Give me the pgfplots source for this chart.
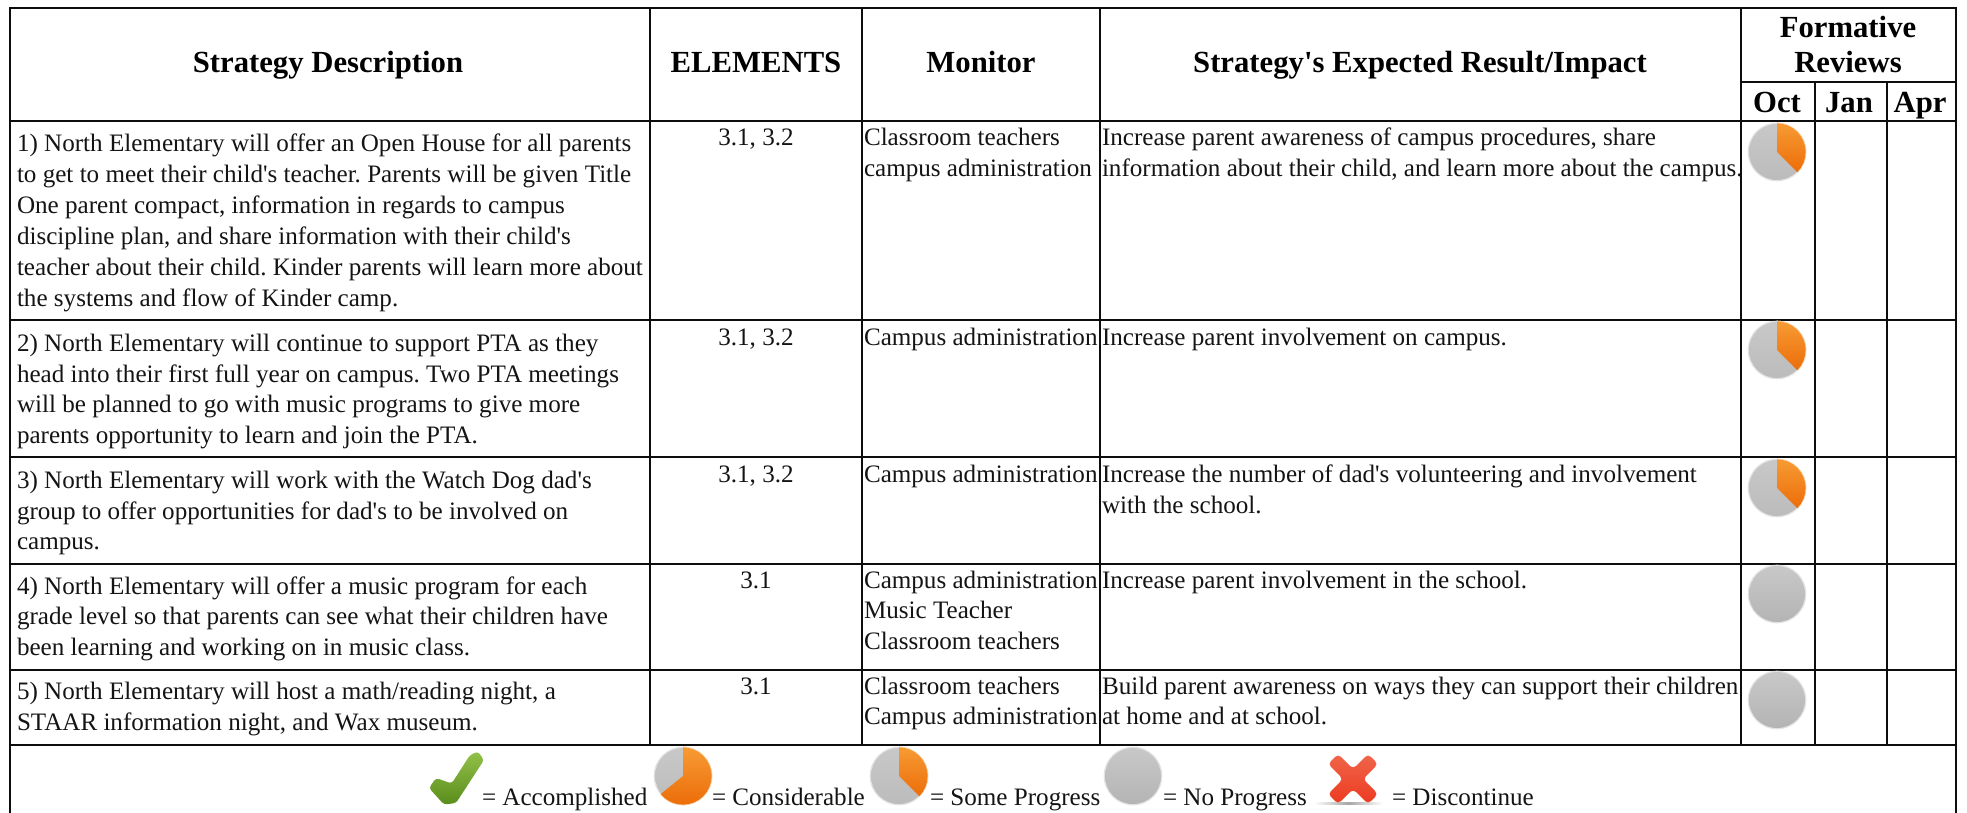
\documentclass[border=0pt]{standalone}
\usepackage{pgfplots}
\usepackage{fontspec}
\setmainfont{Liberation Serif}[Ligatures={TeXOff,CommonOff}]
\pgfplotsset{compat=1.18}
\definecolor{gT}{HTML}{C8C8C8}
\definecolor{gB}{HTML}{B4B4B4}
\definecolor{gR}{HTML}{E2E2E2}
\definecolor{oT}{HTML}{F79B33}
\definecolor{oB}{HTML}{EC6D0A}
\definecolor{oR}{HTML}{FBD9B0}
\definecolor{lT}{HTML}{93C24A}
\definecolor{lB}{HTML}{5A8C1C}
\definecolor{xT}{HTML}{F0654A}
\definecolor{xB}{HTML}{EC3A20}
\pgfdeclareplotmark{pnone}{%
  \path[draw=none,fill=gR] (0,0) circle (29.3pt);
  \shade[draw=none,top color=gT,bottom color=gB] (0,0) circle (28pt);}
\pgfdeclareplotmark{psome}{%
  \path[draw=none,fill=gR] (0,0) circle (29.3pt);
  \path[draw=none,fill=oR] (0,0) -- (0,29.3pt) arc (90:-45:29.3pt) -- cycle;
  \shade[draw=none,top color=gT,bottom color=gB!90!white] (0,0) circle (28pt);
  \shade[draw=none,top color=oT,bottom color=oB] (0,0) -- (0,28.6pt) arc (90:-45:28.6pt) -- cycle;}
\pgfdeclareplotmark{pmore}{%
  \path[draw=none,fill=gR] (0,0) circle (29.3pt);
  \path[draw=none,fill=oR] (0,0) -- (0,29.3pt) arc (90:-141:29.3pt) -- cycle;
  \shade[draw=none,top color=gT,bottom color=gB!90!white] (0,0) circle (28pt);
  \shade[draw=none,top color=oT,bottom color=oB] (0,0) -- (0,28.6pt) arc (90:-141:28.6pt) -- cycle;}
\pgfdeclareplotmark{pcheck}{%
  \shade[draw=none,top color=lT,bottom color=lB,rounded corners=3pt]
    (14pt,24pt) -- (22pt,27.5pt) -- (28pt,19pt) -- (0pt,-24pt) -- (-12pt,-25.5pt) -- (-27pt,-9pt) -- (-20pt,1pt) -- (-4.3pt,-4.5pt) -- cycle;}
\pgfdeclareplotmark{pcross}{%
  \shade[draw=none,left color=white,right color=white,middle color=black!35] (-39pt,-25.5pt) rectangle (30pt,-23.5pt);
  \shade[draw=none,top color=xT,bottom color=xB,rounded corners=4pt]
    (-15pt,25pt) -- (0pt,10pt) -- (15pt,25pt) -- (25pt,15pt) -- (10pt,0pt) -- (25pt,-15pt) -- (15pt,-25pt) -- (0pt,-10pt) -- (-15pt,-25pt) -- (-25pt,-15pt) -- (-10pt,0pt) -- (-25pt,15pt) -- cycle;}
\tikzset{
  tx/.style={anchor=base west,inner sep=0pt,outer sep=0pt,text=black!92,font=\fontsize{25.1pt}{30pt}\selectfont},
  tc/.style={anchor=base,inner sep=0pt,outer sep=0pt,text=black!92,font=\fontsize{25.1pt}{30pt}\selectfont},
  th/.style={anchor=base,inner sep=0pt,outer sep=0pt,text=black,font=\fontsize{30.7pt}{36pt}\selectfont\bfseries},
}
\newcommand{\T}[3]{\node[tx] at (axis cs:#1,#2) {#3};}
\newcommand{\C}[3]{\node[tc] at (axis cs:#1,#2) {#3};}
\newcommand{\Hd}[3]{\node[th] at (axis cs:#1,#2) {#3};}
\newcommand{\Ln}[4]{\addplot[black!95,line width=2pt,line cap=rect] coordinates {(#1,#2) (#3,#4)};}
\begin{document}
\frenchspacing
\begin{tikzpicture}
\begin{axis}[
  scale only axis,width=1967pt,height=812pt,
  xmin=0,xmax=1967,ymin=0,ymax=812,y dir=reverse,
  axis lines=none,ticks=none,clip=false]
\addplot[draw=none,fill=white] coordinates {(0,0) (1967,0) (1967,812) (0,812)} -- cycle;
% table rules
\Ln{10}{8}{1956}{8}
\Ln{10}{121}{1956}{121}
\Ln{1741}{82}{1956}{82}
\Ln{10}{320}{1956}{320}
\Ln{10}{457}{1956}{457}
\Ln{10}{564}{1956}{564}
\Ln{10}{670}{1956}{670}
\Ln{10}{745}{1956}{745}
\Ln{10}{8}{10}{812}
\Ln{1956}{8}{1956}{812}
\Ln{650}{8}{650}{745}
\Ln{862}{8}{862}{745}
\Ln{1100}{8}{1100}{745}
\Ln{1741}{8}{1741}{745}
\Ln{1815}{82}{1815}{745}
\Ln{1887}{82}{1887}{745}
% markers
\addplot[only marks,draw=none,mark=psome] coordinates {(1777,152) (1777,350) (1777,488) (899,776)};
\addplot[only marks,draw=none,mark=pnone] coordinates {(1777,594) (1777,700) (1133,776)};
\addplot[only marks,draw=none,mark=pmore] coordinates {(683,776)};
\addplot[only marks,draw=none,mark=pcheck] coordinates {(456,779)};
\addplot[only marks,draw=none,mark=pcross] coordinates {(1353,779)};
% header
\Hd{328}{73}{Strategy Description}
\Hd{756}{73}{ELEMENTS}
\Hd{981}{73}{Monitor}
\Hd{1420}{73}{Strategy's Expected Result/Impact}
\Hd{1848}{38}{Formative}
\Hd{1848}{73}{Reviews}
\Hd{1777}{113}{Oct}
\Hd{1849}{113}{Jan}
\Hd{1920}{113}{Apr}
% column 1
\T{17}{152}{1) North Elementary will offer an Open House for all parents}
\T{17}{183}{to get to meet their child's teacher. Parents will be given Title}
\T{17}{214}{One parent compact, information in regards to campus}
\T{17}{244}{discipline plan, and share information with their child's}
\T{17}{275}{teacher about their child. Kinder parents will learn more about}
\T{17}{306}{the systems and flow of Kinder camp.}
\T{17}{351}{2) North Elementary will continue to support PTA as they}
\T{17}{382}{head into their first full year on campus. Two PTA meetings}
\T{17}{412}{will be planned to go with music programs to give more}
\T{17}{443}{parents opportunity to learn and join the PTA.}
\T{17}{488}{3) North Elementary will work with the Watch Dog dad's}
\T{17}{519}{group to offer opportunities for dad's to be involved on}
\T{17}{549}{campus.}
\T{17}{594}{4) North Elementary will offer a music program for each}
\T{17}{624}{grade level so that parents can see what their children have}
\T{17}{655}{been learning and working on in music class.}
\T{17}{699}{5) North Elementary will host a math/reading night, a}
\T{17}{730}{STAAR information night, and Wax museum.}
% column 2
\C{756}{146}{3.1, 3.2}
\C{756}{345}{3.1, 3.2}
\C{756}{482}{3.1, 3.2}
\C{756}{588}{3.1}
\C{756}{694}{3.1}
% column 3
\T{864}{146}{Classroom teachers}
\T{864}{177}{campus administration}
\T{864}{345}{Campus administration}
\T{864}{482}{Campus administration}
\T{864}{588}{Campus administration}
\T{864}{618}{Music Teacher}
\T{864}{649}{Classroom teachers}
\T{864}{694}{Classroom teachers}
\T{864}{724}{Campus administration}
% column 4
\T{1102}{146}{Increase parent awareness of campus procedures, share}
\T{1102}{177}{information about their child, and learn more about the campus.}
\T{1102}{345}{Increase parent involvement on campus.}
\T{1102}{482}{Increase the number of dad's volunteering and involvement}
\T{1102}{513}{with the school.}
\T{1102}{588}{Increase parent involvement in the school.}
\T{1102}{694}{Build parent awareness on ways they can support their children}
\T{1102}{724}{at home and at school.}
% legend text
\T{482}{805}{= Accomplished}
\T{712}{805}{= Considerable}
\T{930}{805}{= Some Progress}
\T{1163}{805}{= No Progress}
\T{1392}{805}{= Discontinue}
\end{axis}
\end{tikzpicture}
\end{document}
